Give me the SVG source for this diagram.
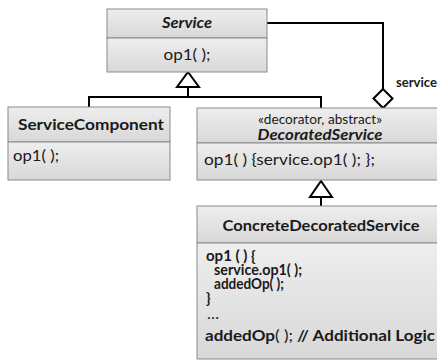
<svg xmlns="http://www.w3.org/2000/svg" width="437" height="363" viewBox="0 0 437 363">
<defs>
<linearGradient id="g" x1="0" y1="0" x2="0" y2="1">
<stop offset="0" stop-color="#eeeeee"/>
<stop offset="1" stop-color="#d8d8d8"/>
</linearGradient>
<style>
.box{fill:url(#g);stroke:#8a8a8a;stroke-width:1}
.t{font-family:Lato,"Liberation Sans",sans-serif;font-size:16px;fill:#1a1a1a}
.s{font-size:15px}
.b{font-weight:bold}
.i{font-style:italic}
.m{text-anchor:middle}
.c{fill:none;stroke:#000;stroke-width:2}
.h{fill:#fff;stroke:#000;stroke-width:2}
</style>
</defs>
<rect width="437" height="363" fill="#fff"/>
<g id="connectors">
<polyline class="c" points="267,23 383,23 383,89"/>
<polygon class="h" points="383,89 392.5,98.5 383,108 373.5,98.5"/>
<polyline class="c" points="188,87 188,97"/>
<polyline class="c" points="89,107 89,97 321,97 321,108"/>
<polygon class="h" points="188,72 199,87 177,87"/>
<polyline class="c" points="321,197 321,206"/>
<polygon class="h" points="321,181 332,197 310,197"/>
<text class="t b" x="396" y="87" style="font-size:13px" textLength="41" lengthAdjust="spacingAndGlyphs">service</text>
</g>
<g id="Service">
<rect class="box" x="107" y="9" width="160" height="29"/>
<rect class="box" x="107" y="38" width="160" height="34"/>
<text class="t b i m" x="187" y="28" textLength="50" lengthAdjust="spacingAndGlyphs">Service</text>
<text class="t m" x="187" y="60" textLength="47" lengthAdjust="spacingAndGlyphs">op1( );</text>
</g>
<g id="ServiceComponent">
<rect class="box" x="8" y="107" width="162" height="35"/>
<rect class="box" x="8" y="142" width="162" height="38"/>
<text class="t b m" x="91" y="130" textLength="146" lengthAdjust="spacingAndGlyphs">ServiceComponent</text>
<text class="t" x="13" y="161" textLength="46" lengthAdjust="spacingAndGlyphs">op1( );</text>
</g>
<g id="DecoratedService">
<rect class="box" x="197" y="108" width="248" height="35"/>
<rect class="box" x="197" y="143" width="248" height="37"/>
<text class="t m" x="320" y="124" style="font-size:13px" textLength="124" lengthAdjust="spacingAndGlyphs">«decorator, abstract»</text>
<text class="t b i m" x="320" y="140" textLength="125" lengthAdjust="spacingAndGlyphs">DecoratedService</text>
<text class="t" x="204" y="165" textLength="171" lengthAdjust="spacingAndGlyphs">op1( ) {service.op1( ); };</text>
</g>
<g id="ConcreteDecoratedService">
<rect class="box" x="197" y="206" width="248" height="37"/>
<rect class="box" x="197" y="243" width="248" height="116"/>
<text class="t b m" x="321" y="231" textLength="197" lengthAdjust="spacingAndGlyphs">ConcreteDecoratedService</text>
<text class="t b s" x="206" y="261">op1 ( ) {</text>
<text class="t b s" x="214" y="275" textLength="88" lengthAdjust="spacingAndGlyphs">service.op1( );</text>
<text class="t b s" x="214" y="289" textLength="70" lengthAdjust="spacingAndGlyphs">addedOp( );</text>
<text class="t b s" x="206" y="303">}</text>
<text class="t" x="207" y="319">…</text>
<text class="t b" x="205" y="341" textLength="230" lengthAdjust="spacingAndGlyphs">addedOp<tspan font-weight="normal">( );</tspan> // Additional Logic</text>
</g>
</svg>
